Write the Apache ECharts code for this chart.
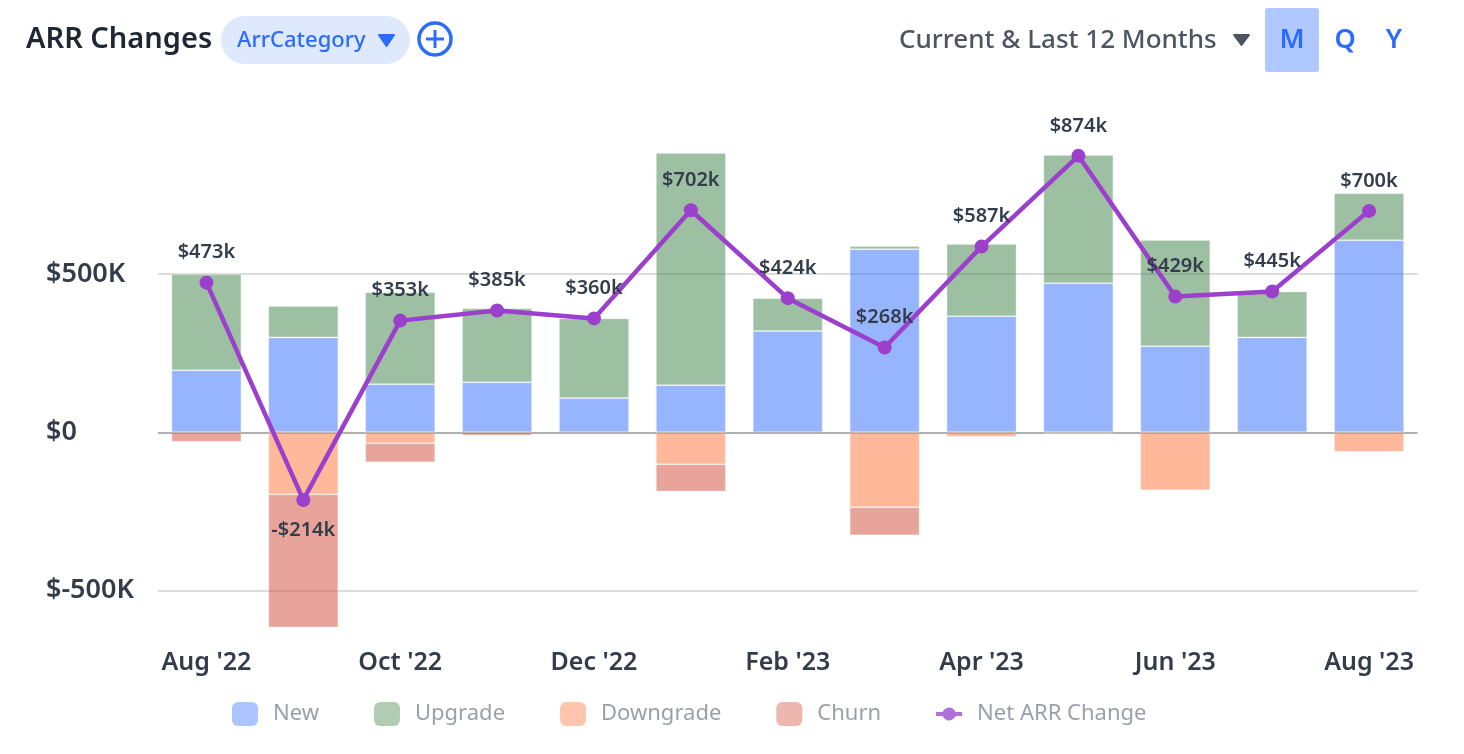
<!DOCTYPE html>
<html><head><meta charset="utf-8">
<style>html,body{margin:0;padding:0;background:#fff}#c{width:1464px;height:754px}</style>
<script src="https://cdn.jsdelivr.net/npm/echarts@6/dist/echarts.min.js"></script>
</head><body><div id="c"></div>
<script>
const categories = ["Aug '22","Sep '22","Oct '22","Nov '22","Dec '22","Jan '23","Feb '23","Mar '23","Apr '23","May '23","Jun '23","Jul '23","Aug '23"];
const newArr     = [196,300,152,158,108,149,320,579,367,471,272,300,607];
const upgrade    = [304,99,291,234,252,734,104,10,228,406,336,145,149];
const downgrade  = [null,-196,-35,null,null,-101,null,-237,-14,-5,-183,null,-62];
const churn      = [-30,-421,-60,-10,null,-86,null,-89,null,null,null,null,null];
const netChange  = [473,-214,353,385,360,702,424,268,587,874,429,445,700];
const yTicks     = [-500,0,500];

const FONT = '"Noto Sans", sans-serif';
const BLUE = '#2b6cff';
const border = {borderColor:'rgba(232,235,235,0.35)',borderWidth:1};
function bar(name,data,color){
  return {name,type:'bar',stack:'arr',data,barWidth:70,itemStyle:Object.assign({color},border),
          emphasis:{disabled:true},z:2};
}
function fmtY(v){return v===0?'$0':'$'+v+'K';}
function fmtNet(v){return v<0?'-$'+(-v)+'k':'$'+v+'k';}
const txt=(x,y,text,size,weight,fill,align)=>({type:'text',x,y,style:{text,font:`${weight} ${size}px ${FONT}`,fill,align:align||'left',verticalAlign:'middle'}});
const tri=(x0,x1,y0,y1,c)=>({type:'polygon',shape:{points:[[x0+1,y0+1],[x1-1,y0+1],[(x0+x1)/2,y1-1]]},style:{fill:c,stroke:c,lineWidth:2,lineJoin:'round'}});
const netIcon='path://M13 0L13.01 0L13 0.01Z M0 10H6.5A7 7 0 0 1 19.5 10H26V14H19.5A7 7 0 0 1 6.5 14H0Z M13 24L13.01 24L13 23.99Z';

const chart = echarts.init(document.getElementById('c'),null,{renderer:'canvas'});
chart.setOption({
  animation:false,
  textStyle:{fontFamily:FONT},
  grid:{left:158,right:46.5,top:116,bottom:122.5,containLabel:false},
  xAxis:{type:'category',data:categories,
    axisLine:{show:false},axisTick:{show:false},
    axisLabel:{interval:1,margin:19,fontSize:25,fontWeight:600,color:'#343c4a',fontFamily:FONT}},
  yAxis:{type:'value',min:-630,max:1000,
    axisLine:{show:false},axisTick:{show:false,customValues:yTicks},
    axisLabel:{customValues:yTicks,formatter:fmtY,align:'left',margin:112,fontSize:27,fontWeight:600,color:'#343c4a',fontFamily:FONT},
    splitLine:{show:true,customValues:yTicks,lineStyle:{color:['#dcdcdc','#b0b0b0','#dcdcdc'],width:2}}},
  legend:{left:232,top:702,padding:0,itemWidth:26,itemHeight:24,itemGap:55,
    textStyle:{color:'#9aa0a8',fontSize:22,fontFamily:FONT,padding:[2,0,0,10]},
    data:[
      {name:'New',icon:'roundRect',itemStyle:{opacity:0.8,borderWidth:0}},
      {name:'Upgrade',icon:'roundRect',itemStyle:{opacity:0.8,borderWidth:0}},
      {name:'Downgrade',icon:'roundRect',itemStyle:{opacity:0.8,borderWidth:0}},
      {name:'Churn',icon:'roundRect',itemStyle:{opacity:0.8,borderWidth:0}},
      {name:'Net ARR Change',icon:netIcon,itemStyle:{color:'#b06fd9',borderWidth:0}}
    ]},
  series:[
    bar('New',newArr,'rgba(47,107,255,0.5)'),
    bar('Upgrade',upgrade,'rgba(57,129,67,0.5)'),
    bar('Downgrade',downgrade,'rgba(255,113,51,0.5)'),
    bar('Churn',churn,'rgba(209,73,55,0.5)'),
    {name:'Net ARR Change',type:'line',z:5,symbol:'circle',symbolSize:14,
     lineStyle:{color:'#9b3fcc',width:4.5},itemStyle:{color:'#9b3fcc'},emphasis:{disabled:true},
     data:netChange.map(v=>({value:v,label:{position:v<0?'bottom':'top'}})),
     label:{show:true,distance:13,formatter:p=>fmtNet(p.value),fontSize:20,fontWeight:600,color:'#333d4b',fontFamily:FONT}}
  ],
  graphic:[
    txt(26,39.5,'ARR Changes',29,600,'#1f2733'),
    {type:'rect',shape:{x:221,y:16,width:189,height:48,r:24},style:{fill:'#dfe9fd'}},
    txt(237,40.5,'ArrCategory',22,500,BLUE),
    tri(378,395,34,47,BLUE),
    {type:'circle',shape:{cx:435,cy:39,r:16},style:{fill:'#fff',stroke:BLUE,lineWidth:3.5}},
    {type:'line',shape:{x1:426,y1:39,x2:444,y2:39},style:{stroke:BLUE,lineWidth:3}},
    {type:'line',shape:{x1:435,y1:30,x2:435,y2:48},style:{stroke:BLUE,lineWidth:3}},
    txt(899,40.5,'Current & Last 12 Months',26,500,'#4c5561'),
    tri(1233,1250,34,46,'#4c5561'),
    {type:'rect',shape:{x:1265,y:8,width:54,height:64,r:3},style:{fill:'#afc8ff'}},
    txt(1292,40.5,'M',27,600,BLUE,'center'),
    txt(1345,40.5,'Q',27,600,BLUE,'center'),
    txt(1394,40.5,'Y',27,600,BLUE,'center')
  ]
});
</script></body></html>
